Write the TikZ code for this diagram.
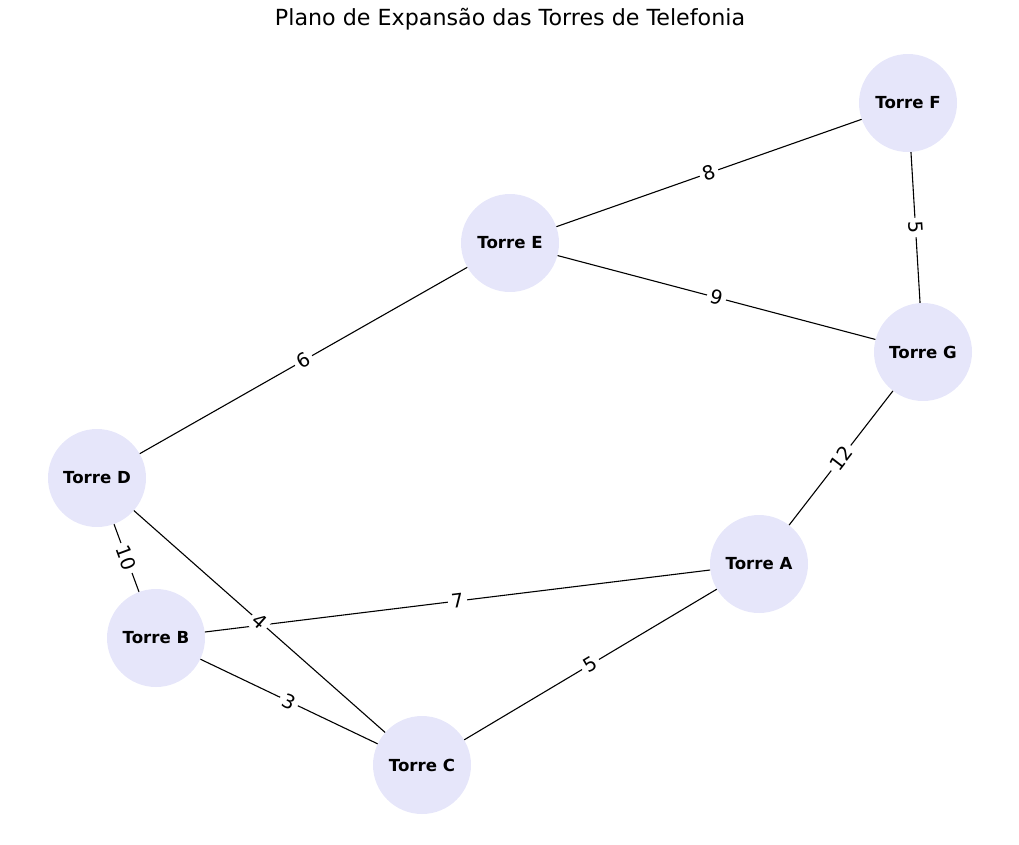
\documentclass[tikz,border=0pt]{standalone}
\usepackage{fontspec}
\setmainfont{DejaVu Sans}
\begin{document}
\begin{tikzpicture}[x=1pt,y=-1pt,
  torre/.style={circle,fill=lavender,minimum size=98pt,inner sep=0pt,font=\fontsize{16.6}{18}\selectfont\bfseries},
  link/.style={line width=1.1pt,black},
  wlabel/.style={sloped,fill=white,inner sep=3.5pt,font=\fontsize{19.4}{21}\selectfont}]
\definecolor{lavender}{HTML}{E6E6FA}
\useasboundingbox (0,0) rectangle (1019,844);
\node[font=\fontsize{22.2}{24}\selectfont] (title) at (510,19) {Plano de Expansão das Torres de Telefonia};
\node[torre] (F) at (908,103) {Torre F};
\node[torre] (E) at (510,243) {Torre E};
\node[torre] (G) at (923,352) {Torre G};
\node[torre] (D) at (97,478) {Torre D};
\node[torre] (A) at (759,564) {Torre A};
\node[torre] (B) at (156,638) {Torre B};
\node[torre] (C) at (422,765) {Torre C};
\draw[link] (E) -- (F);
\draw[link] (F) -- (G);
\draw[link] (E) -- (G);
\draw[link] (D) -- (E);
\draw[link] (A) -- (G);
\draw[link] (D) -- (B);
\draw[link] (D) -- (C);
\draw[link] (B) -- (A);
\draw[link] (B) -- (C);
\draw[link] (C) -- (A);
\path (E.center) -- node[wlabel] (l1) {8} (F.center);
\path (F.center) -- node[wlabel] (l2) {5} (G.center);
\path (E.center) -- node[wlabel] (l3) {9} (G.center);
\path (D.center) -- node[wlabel] (l4) {6} (E.center);
\path (A.center) -- node[wlabel] (l5) {12} (G.center);
\path (D.center) -- node[wlabel] (l6) {10} (B.center);
\path (D.center) -- node[wlabel] (l7) {4} (C.center);
\path (B.center) -- node[wlabel] (l8) {7} (A.center);
\path (B.center) -- node[wlabel] (l9) {3} (C.center);
\path (C.center) -- node[wlabel] (l10) {5} (A.center);
\end{tikzpicture}
\end{document}
